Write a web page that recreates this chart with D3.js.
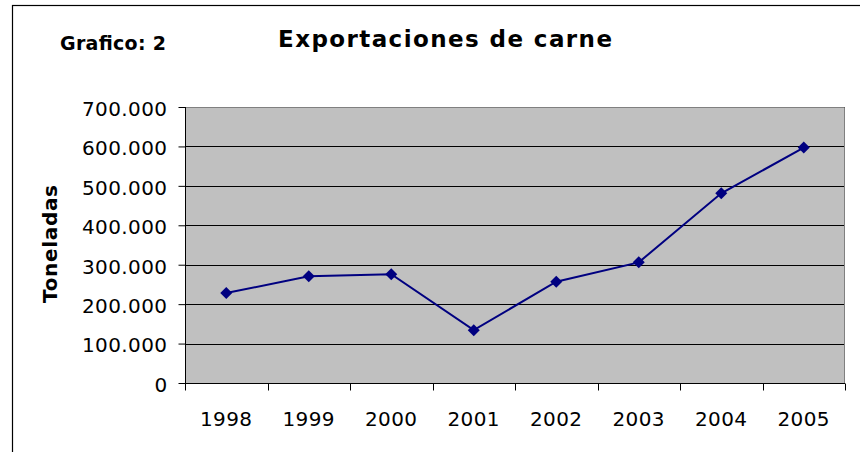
<!DOCTYPE html>
<html><head><meta charset="utf-8">
<script src="https://cdn.jsdelivr.net/npm/d3@7"></script>
<style>body{margin:0;background:#fff}svg{display:block}</style>
</head><body>
<script>
const years = ["1998","1999","2000","2001","2002","2003","2004","2005"];
const exports_t = [228000, 271000, 276000, 134000, 257000, 306000, 481000, 597000];
const yTicks = [0,100000,200000,300000,400000,500000,600000,700000];

const W = 860, H = 452;
const svg = d3.select("body").append("svg").attr("width", W).attr("height", H);
svg.append("rect").attr("width", W).attr("height", H).attr("fill", "#fff");
// outer chart frame
svg.append("rect").attr("x", 12.5).attr("y", 5.5).attr("width", 900).attr("height", 600)
  .attr("fill", "none").attr("stroke", "#000").attr("stroke-width", 1.2);

const L = 185, R = 845, T = 107, B = 383;
const x = d3.scaleBand().domain(years).range([L, R]).padding(0);
const y = d3.scaleLinear().domain([0, 700000]).range([B, T]);

svg.append("rect").attr("x", L).attr("y", T).attr("width", R - L).attr("height", B - T)
  .attr("fill", "#c0c0c0");

// gridlines
svg.append("g").selectAll("line").data(yTicks.filter(d => d > 0)).join("line")
  .attr("x1", L).attr("x2", R)
  .attr("y1", d => Math.round(y(d)) + 0.5).attr("y2", d => Math.round(y(d)) + 0.5)
  .attr("stroke", "#000").attr("stroke-width", 1);
// plot border top/right gray
svg.append("path").attr("d", `M${L},${T+0.5}H${R-0.5}V${B}`).attr("fill", "none")
  .attr("stroke", "#808080").attr("stroke-width", 1);

const fmt = d => d === 0 ? "0" : d3.format(",")(d).replace(/,/g, ".");
const tickFont = "'DejaVu Sans', Verdana, sans-serif";

// y axis
const yAxis = d3.axisLeft(y).tickValues(yTicks).tickSize(7).tickPadding(11).tickFormat(fmt);
const gy = svg.append("g").attr("transform", `translate(${L + 0.5},0)`).call(yAxis);
gy.select(".domain").attr("stroke", "#000").attr("d", `M0,${T}V${B}`);
gy.selectAll(".tick line").attr("stroke", "#000");
gy.selectAll(".tick text").attr("fill", "#000")
  .style("font-family", tickFont).style("font-size", "20px")
  .style("letter-spacing", "0.4px").attr("dy", "0.42em");

// x axis: ticks at band boundaries
const gx = svg.append("g").attr("transform", `translate(0,${B + 0.5})`);
gx.append("line").attr("x1", L).attr("x2", R).attr("stroke", "#000");
const bounds = years.map(d => x(d)).concat([R]);
gx.selectAll("line.tk").data(bounds).join("line").attr("class", "tk")
  .attr("x1", d => Math.round(d) + 0.5).attr("x2", d => Math.round(d) + 0.5)
  .attr("y1", 0).attr("y2", 7).attr("stroke", "#000");
gx.selectAll("text").data(years).join("text")
  .attr("x", d => x(d) + x.bandwidth() / 2).attr("y", 42)
  .attr("text-anchor", "middle").attr("fill", "#000")
  .style("font-family", tickFont).style("font-size", "20px")
  .style("letter-spacing", "0.4px").text(d => d);

// line
const line = d3.line().x((d, i) => x(years[i]) + x.bandwidth() / 2).y(d => y(d));
svg.append("path").datum(exports_t).attr("d", line).attr("fill", "none")
  .attr("stroke", "#000080").attr("stroke-width", 2);
svg.append("g").selectAll("path").data(exports_t).join("path")
  .attr("transform", (d, i) => `translate(${x(years[i]) + x.bandwidth() / 2},${y(d)})`)
  .attr("d", "M0,-6L6,0L0,6L-6,0Z").attr("fill", "#000080");

// titles
const boldFont = "'DejaVu Sans', Verdana, sans-serif";
svg.append("text").attr("x", 278).attr("y", 47).attr("textLength", 334).attr("lengthAdjust", "spacing")
  .style("font-family", boldFont).style("font-weight", "bold")
  .style("font-size", "23px").attr("fill", "#000").text("Exportaciones de carne");
svg.append("text").attr("x", 60).attr("y", 50).attr("textLength", 106).attr("lengthAdjust", "spacing")
  .style("font-family", boldFont).style("font-weight", "bold")
  .style("font-size", "19px").attr("fill", "#000").text("Grafico: 2");
svg.append("text").attr("transform", "translate(57,244) rotate(-90)").attr("text-anchor", "middle")
  .attr("textLength", 118).attr("lengthAdjust", "spacing")
  .style("font-family", boldFont).style("font-weight", "bold")
  .style("font-size", "20px").attr("fill", "#000").text("Toneladas");
</script>
</body></html>
